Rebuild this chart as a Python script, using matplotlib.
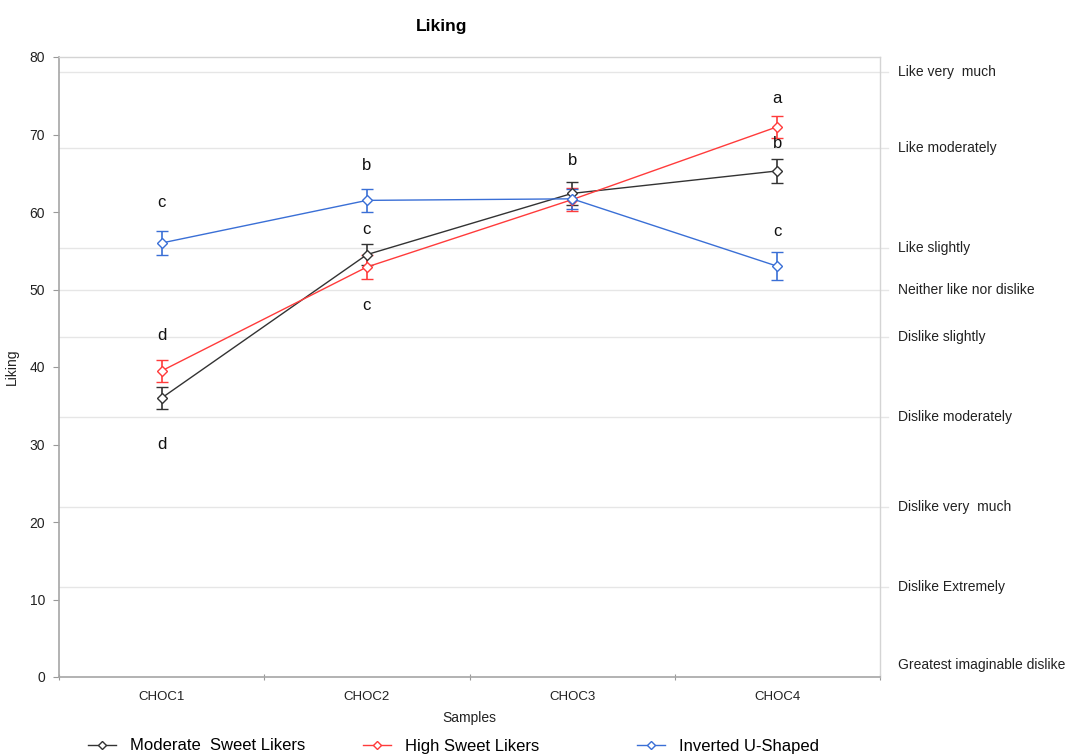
import matplotlib.pyplot as plt
from matplotlib.lines import Line2D
from matplotlib.transforms import blended_transform_factory
import numpy as np

plt.rcParams['font.family'] = ['Liberation Sans', 'DejaVu Sans']

samples = ['CHOC1', 'CHOC2', 'CHOC3', 'CHOC4']

moderate = [36.0, 54.5, 62.4, 65.3]
moderate_err = [1.4, 1.4, 1.5, 1.6]
high = [39.5, 52.9, 61.6, 71.0]
high_err = [1.4, 1.5, 1.5, 1.4]
inverted = [56.0, 61.5, 61.7, 53.0]
inverted_err = [1.5, 1.5, 1.3, 1.8]

# significance letters: sample index, height, letter
letters_x = [0, 0, 0, 1, 1, 1, 2, 3, 3, 3]
letters_y = [61.2, 44.1, 30.0, 66.0, 57.8, 48.0, 66.6, 74.7, 68.8, 57.5]
letters = ['c', 'd', 'd', 'b', 'c', 'c', 'b', 'a', 'b', 'c']

scale_values = [78.1, 68.2, 55.4, 50.0, 43.9, 33.6, 22.0, 11.6, 0.0]
scale_labels = ['Like very  much', 'Like moderately', 'Like slightly',
                'Neither like nor dislike', 'Dislike slightly', 'Dislike moderately',
                'Dislike very  much', 'Dislike Extremely', 'Greatest imaginable dislike']

fig = plt.figure(figsize=(10.75, 7.56), dpi=100)
ax = fig.add_axes([59 / 1075, 1 - 677 / 756, 821 / 1075, 620 / 756])

x = np.arange(len(samples))
trans = blended_transform_factory(ax.transAxes, ax.transData)

for v in scale_values[:-1]:
    ax.plot([0, 1.01], [v, v], transform=trans, color='#e6e6e6', lw=1.0,
            clip_on=False, zorder=0)

series = [
    (moderate, moderate_err, '#333333', 'Moderate  Sweet Likers'),
    (high, high_err, '#ff3b3b', 'High Sweet Likers'),
    (inverted, inverted_err, '#3a6fd6', 'Inverted U-Shaped'),
]
for vals, err, col, lab in series:
    ax.errorbar(x, vals, yerr=err, color=col, lw=1.0, elinewidth=1.2,
                capsize=4, capthick=1.2, marker='D', markersize=5,
                markerfacecolor='white', markeredgecolor=col, markeredgewidth=1.0)

for xi, yi, t in zip(letters_x, letters_y, letters):
    ax.text(xi, yi, t, ha='center', va='center', fontsize=12, color='#111111')

for v, t in zip(scale_values, scale_labels):
    va = 'bottom' if v == 0 else 'center'
    ax.text(1.022, v + (0.6 if v == 0 else 0), t, transform=trans, ha='left', va=va,
            fontsize=10, color='#222222')

ax.set_xlim(-0.5, 3.5)
ax.set_ylim(0, 80)
ax.set_yticks(np.arange(0, 81, 10))
ax.set_xticks(np.arange(-0.5, 3.6, 1.0))
ax.set_xticklabels([])
ax.set_xticks(x, minor=True)
ax.set_xticklabels(samples, minor=True)
ax.tick_params(axis='x', which='minor', length=0, pad=10, labelsize=9.5, labelcolor='#222222')
ax.tick_params(axis='x', which='major', length=4, direction='inout', color='#999999')
ax.tick_params(axis='y', length=4, color='#999999', labelsize=10, labelcolor='#222222', pad=6)

for side in ['left', 'bottom']:
    ax.spines[side].set_color('#a6a6a6')
    ax.spines[side].set_linewidth(1.2)
for side in ['right', 'top']:
    ax.spines[side].set_color('#d4d4d4')
    ax.spines[side].set_linewidth(1.0)

ax.set_xlabel('Samples', fontsize=10, color='#222222', labelpad=6)
ax.set_ylabel('Liking', fontsize=10, color='#222222', labelpad=8)
fig.text(442 / 1075, 1 - 27 / 756, 'Liking', ha='center', va='center',
         fontsize=12.5, fontweight='bold')

legend_x = [88, 363, 637]
for (vals, err, col, lab), lx in zip(series, legend_x):
    h = Line2D([], [], color=col, lw=1.0, marker='D', markersize=4.5,
               markerfacecolor='white', markeredgecolor=col)
    fig.legend([h], [lab], loc='center left', bbox_to_anchor=(lx / 1075, 1 - 746 / 756),
               frameon=False, fontsize=12, handlelength=1.7, handletextpad=0.8,
               borderpad=0, borderaxespad=0)

fig.savefig('out.png', dpi=100, facecolor='white')
